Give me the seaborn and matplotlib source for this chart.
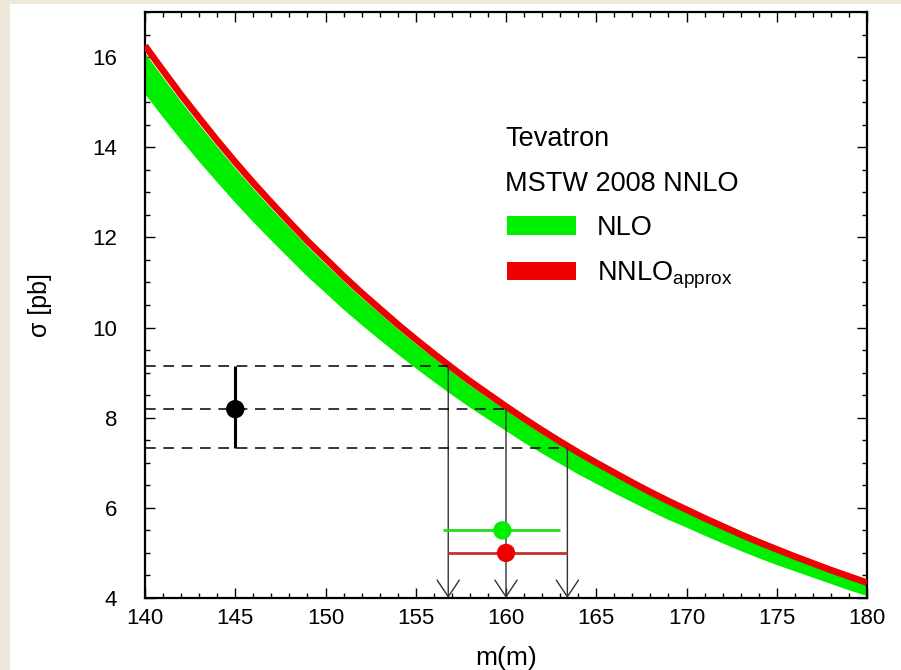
"""
Top-quark mass from the Tevatron cross section (NLO vs NNLO_approx band)
"""

import numpy as np
import matplotlib.pyplot as plt
import seaborn as sns
from matplotlib.patches import Rectangle

# === Data ===
mass = list(range(140, 181))
nnlo_sigma = [16.25, 15.70, 15.16, 14.65, 14.15, 13.67, 13.21, 12.77, 12.34, 11.92,
              11.53, 11.14, 10.77, 10.42, 10.07, 9.74, 9.42, 9.11, 8.81, 8.53,
              8.25, 7.98, 7.72, 7.47, 7.23, 7.00, 6.78, 6.56, 6.35, 6.15,
              5.96, 5.77, 5.59, 5.41, 5.24, 5.08, 4.92, 4.77, 4.62, 4.48, 4.34]
nlo_upper = [16.09, 15.54, 15.01, 14.50, 14.01, 13.53, 13.08, 12.64, 12.22, 11.80,
             11.41, 11.03, 10.66, 10.32, 9.97, 9.64, 9.33, 9.02, 8.72, 8.44,
             8.17, 7.90, 7.64, 7.40, 7.16, 6.93, 6.71, 6.49, 6.29, 6.09,
             5.90, 5.71, 5.53, 5.36, 5.19, 5.03, 4.87, 4.72, 4.57, 4.44, 4.30]
nlo_lower = [15.18, 14.66, 14.16, 13.68, 13.22, 12.77, 12.34, 11.93, 11.53, 11.13,
             10.77, 10.40, 10.06, 9.73, 9.41, 9.10, 8.80, 8.51, 8.23, 7.97,
             7.71, 7.45, 7.21, 6.98, 6.75, 6.54, 6.33, 6.13, 5.93, 5.74,
             5.57, 5.39, 5.22, 5.05, 4.89, 4.74, 4.60, 4.46, 4.32, 4.18, 4.05]

# measured cross section shown at m = 145
meas_x = 145
meas_central = 8.19
meas_levels = [9.15, 8.19, 7.33]        # high, central, low
extract_x = [156.8, 160.0, 163.4]       # where each level meets the curve

# extracted masses: centre, low, high (and their y position)
nlo_mass = [159.8, 156.5, 163.0]
nlo_y = 5.5
nnlo_mass = [160.0, 156.8, 163.4]
nnlo_y = 5.0

x_ticks = [140, 145, 150, 155, 160, 165, 170, 175, 180]
y_ticks = [4, 6, 8, 10, 12, 14, 16]

# === Style ===
GREEN = "#00ee00"
RED = "#ee0000"
BG = "#efe9dc"

sns.set_theme(style="ticks")
plt.rcParams["font.family"] = ["Liberation Sans", "DejaVu Sans"]
plt.rcParams["mathtext.fontset"] = "custom"
plt.rcParams["mathtext.rm"] = "Liberation Sans"
for k in ["text.color", "axes.labelcolor", "xtick.color", "ytick.color"]:
    plt.rcParams[k] = "black"

fig = plt.figure(figsize=(9.01, 6.70), dpi=100, facecolor=BG)
fig.add_artist(Rectangle((10 / 901, 0), 1, 666 / 670, transform=fig.transFigure,
                         facecolor="white", edgecolor="none", zorder=-1))
ax = fig.add_axes([145 / 901, 72 / 670, 722 / 901, 586 / 670])
ax.set_facecolor("white")

# band + curve
ax.fill_between(mass, nlo_lower, nlo_upper, color=GREEN, linewidth=0, zorder=2)
sns.lineplot(x=mass, y=nnlo_sigma, color=RED, linewidth=4.8, ax=ax, zorder=3,
             solid_capstyle="butt")

# dashed levels of the measurement and arrows down to the axis
for lvl, xe in zip(meas_levels, extract_x):
    ax.plot([x_ticks[0], xe], [lvl, lvl], color="black", lw=1.1,
            dashes=(7, 5), zorder=4)
    ax.annotate("", xy=(xe, y_ticks[0]), xytext=(xe, lvl),
                arrowprops=dict(arrowstyle="->,head_length=0.6,head_width=0.4",
                                color="#333333", lw=1.0, mutation_scale=20,
                                shrinkA=0, shrinkB=0), zorder=4)

# measurement point
ax.vlines(meas_x, meas_levels[2], meas_levels[0], color="black", lw=2.2, zorder=5)
sns.scatterplot(x=[meas_x], y=[meas_central], color="black", s=175,
                edgecolor="none", ax=ax, zorder=6)

# extracted masses
ax.hlines(nlo_y, nlo_mass[1], nlo_mass[2], color="#22dd22", lw=2.0, zorder=5)
ax.hlines(nnlo_y, nnlo_mass[1], nnlo_mass[2], color="#c83030", lw=2.0, zorder=5)
sns.scatterplot(x=[nlo_mass[0]], y=[nlo_y], color=GREEN, s=175,
                edgecolor="none", ax=ax, zorder=6)
sns.scatterplot(x=[nnlo_mass[0]], y=[nnlo_y], color=RED, s=175,
                edgecolor="none", ax=ax, zorder=6)

# === Axes ===
ax.set_xlim(140, 180)
ax.set_ylim(4, 17)
ax.set_xticks(x_ticks)
ax.set_yticks(y_ticks)
ax.set_xticks(np.arange(140, 181, 1), minor=True)
ax.set_yticks(np.arange(4, 17.01, 0.5), minor=True)
ax.tick_params(which="both", direction="in", top=True, right=True,
               color="black", width=1.0)
ax.tick_params(which="major", length=7.5, labelsize=16)
ax.tick_params(which="minor", length=3.8)
ax.tick_params(axis="y", pad=20)
ax.tick_params(axis="x", pad=7)
for s in ax.spines.values():
    s.set_linewidth(1.6)
    s.set_color("black")

ax.set_xlabel("m(m)", fontsize=19)
ax.set_ylabel("σ [pb]", fontsize=18)
ax.xaxis.set_label_coords(0.5, -0.082)
ax.yaxis.set_label_coords(-0.129, 0.5)

# === Key ===
ax.text(0.4986, 0.7713, "Tevatron", transform=ax.transAxes, fontsize=19.5,
        va="baseline")
ax.text(0.4986, 0.6945, "MSTW 2008 NNLO", transform=ax.transAxes, fontsize=19.5,
        va="baseline")
ax.add_patch(Rectangle((0.5014, 0.6195), 0.0956, 0.0324, transform=ax.transAxes,
                       facecolor=GREEN, edgecolor="none", zorder=7))
ax.add_patch(Rectangle((0.5014, 0.5427), 0.0956, 0.0307, transform=ax.transAxes,
                       facecolor=RED, edgecolor="none", zorder=7))
ax.text(0.626, 0.6195, "NLO", transform=ax.transAxes, fontsize=19.5, va="baseline")
ax.text(0.626, 0.541, r"NNLO$_{\mathrm{approx}}$", transform=ax.transAxes,
        fontsize=19.5, va="baseline")

plt.savefig("out.png", dpi=100, facecolor=fig.get_facecolor())
plt.close()
